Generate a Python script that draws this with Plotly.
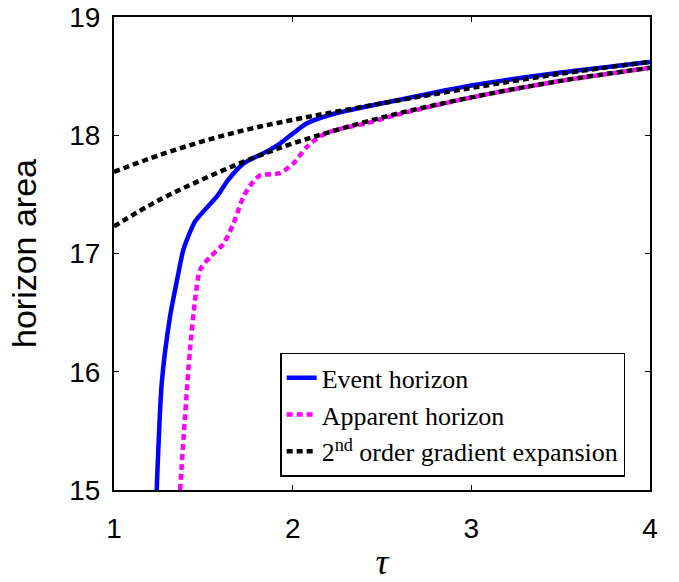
import plotly.graph_objects as go

# Event horizon
eh_tau = [1.239, 1.267, 1.313, 1.36, 1.388, 1.453, 1.575, 1.638, 1.724, 1.864, 1.929, 2.078, 2.227, 2.6, 3.0, 3.5, 4.0]
eh_area = [15.0, 15.9, 16.46, 16.83, 17.03, 17.27, 17.48, 17.62, 17.76, 17.87, 17.93, 18.10, 18.18, 18.30, 18.42, 18.53, 18.62]

# Apparent horizon
ah_tau = [1.37, 1.397, 1.425, 1.453, 1.481, 1.537, 1.612, 1.668, 1.724, 1.77, 1.817, 1.929, 2.003, 2.078, 2.153, 2.227, 2.41, 2.6, 3.0, 3.5, 4.0]
ah_area = [15.0, 15.61, 16.18, 16.60, 16.86, 16.97, 17.08, 17.25, 17.48, 17.59, 17.66, 17.68, 17.76, 17.90, 17.99, 18.04, 18.10, 18.18, 18.32, 18.46, 18.57]

# 2nd order gradient expansion (two curves)
ge_tau = [1.0, 1.25, 1.5, 1.75, 2.0, 2.5, 3.0, 3.5, 4.0]
ge_upper = [17.69, 17.83, 17.95, 18.05, 18.13, 18.27, 18.40, 18.52, 18.62]
ge_lower = [17.23, 17.45, 17.63, 17.79, 17.93, 18.15, 18.32, 18.46, 18.57]

x_ticks = [1, 2, 3, 4]
y_ticks = [15, 16, 17, 18, 19]

fig = go.Figure()
fig.add_trace(go.Scatter(x=eh_tau, y=eh_area, mode="lines", name="Event horizon",
                         line=dict(color="#0000FF", width=4.5, shape="spline", smoothing=0.6)))
fig.add_trace(go.Scatter(x=ah_tau, y=ah_area, mode="lines", name="Apparent horizon",
                         line=dict(color="#FF00FF", width=4.5, dash="6px,4px", shape="spline", smoothing=0.6)))
fig.add_trace(go.Scatter(x=ge_tau, y=ge_upper, mode="lines", name="2<sup>nd</sup> order gradient expansion",
                         line=dict(color="black", width=4.5, dash="6px,4px", shape="spline")))
fig.add_trace(go.Scatter(x=ge_tau, y=ge_lower, mode="lines", showlegend=False,
                         line=dict(color="black", width=4.5, dash="6px,4px", shape="spline")))

axis_common = dict(showgrid=False, zeroline=False, showline=True, linecolor="black", linewidth=2,
                   mirror="ticks", ticks="inside", ticklen=5, tickcolor="black", tickwidth=1,
                   automargin=False,
                   tickfont=dict(family="Liberation Sans, Arial", size=28, color="black"))

fig.update_xaxes(range=[1, 4], tickvals=x_ticks, ticklabelstandoff=12,
                 title=dict(text="<i>τ</i>", font=dict(family="Liberation Serif, Times New Roman", size=36, color="black"), standoff=14),
                 **axis_common)
fig.update_yaxes(range=[15, 19], tickvals=y_ticks, ticklabelstandoff=6,
                 title=dict(text="horizon area", font=dict(family="Liberation Sans, Arial", size=34, color="black"), standoff=22),
                 **axis_common)

fig.update_layout(
    width=679, height=582,
    margin=dict(l=114, r=29, t=17, b=92),
    plot_bgcolor="white", paper_bgcolor="white",
    legend=dict(x=0.31, y=0.29, xanchor="left", yanchor="top",
                bgcolor="white", bordercolor="black", borderwidth=1.5,
                font=dict(family="Liberation Serif, Times New Roman", size=26, color="black"),
                tracegroupgap=0, itemwidth=30),
)

fig.write_html("out.html", config={"displayModeBar": False},
               post_script="document.body.style.margin='0px';")
